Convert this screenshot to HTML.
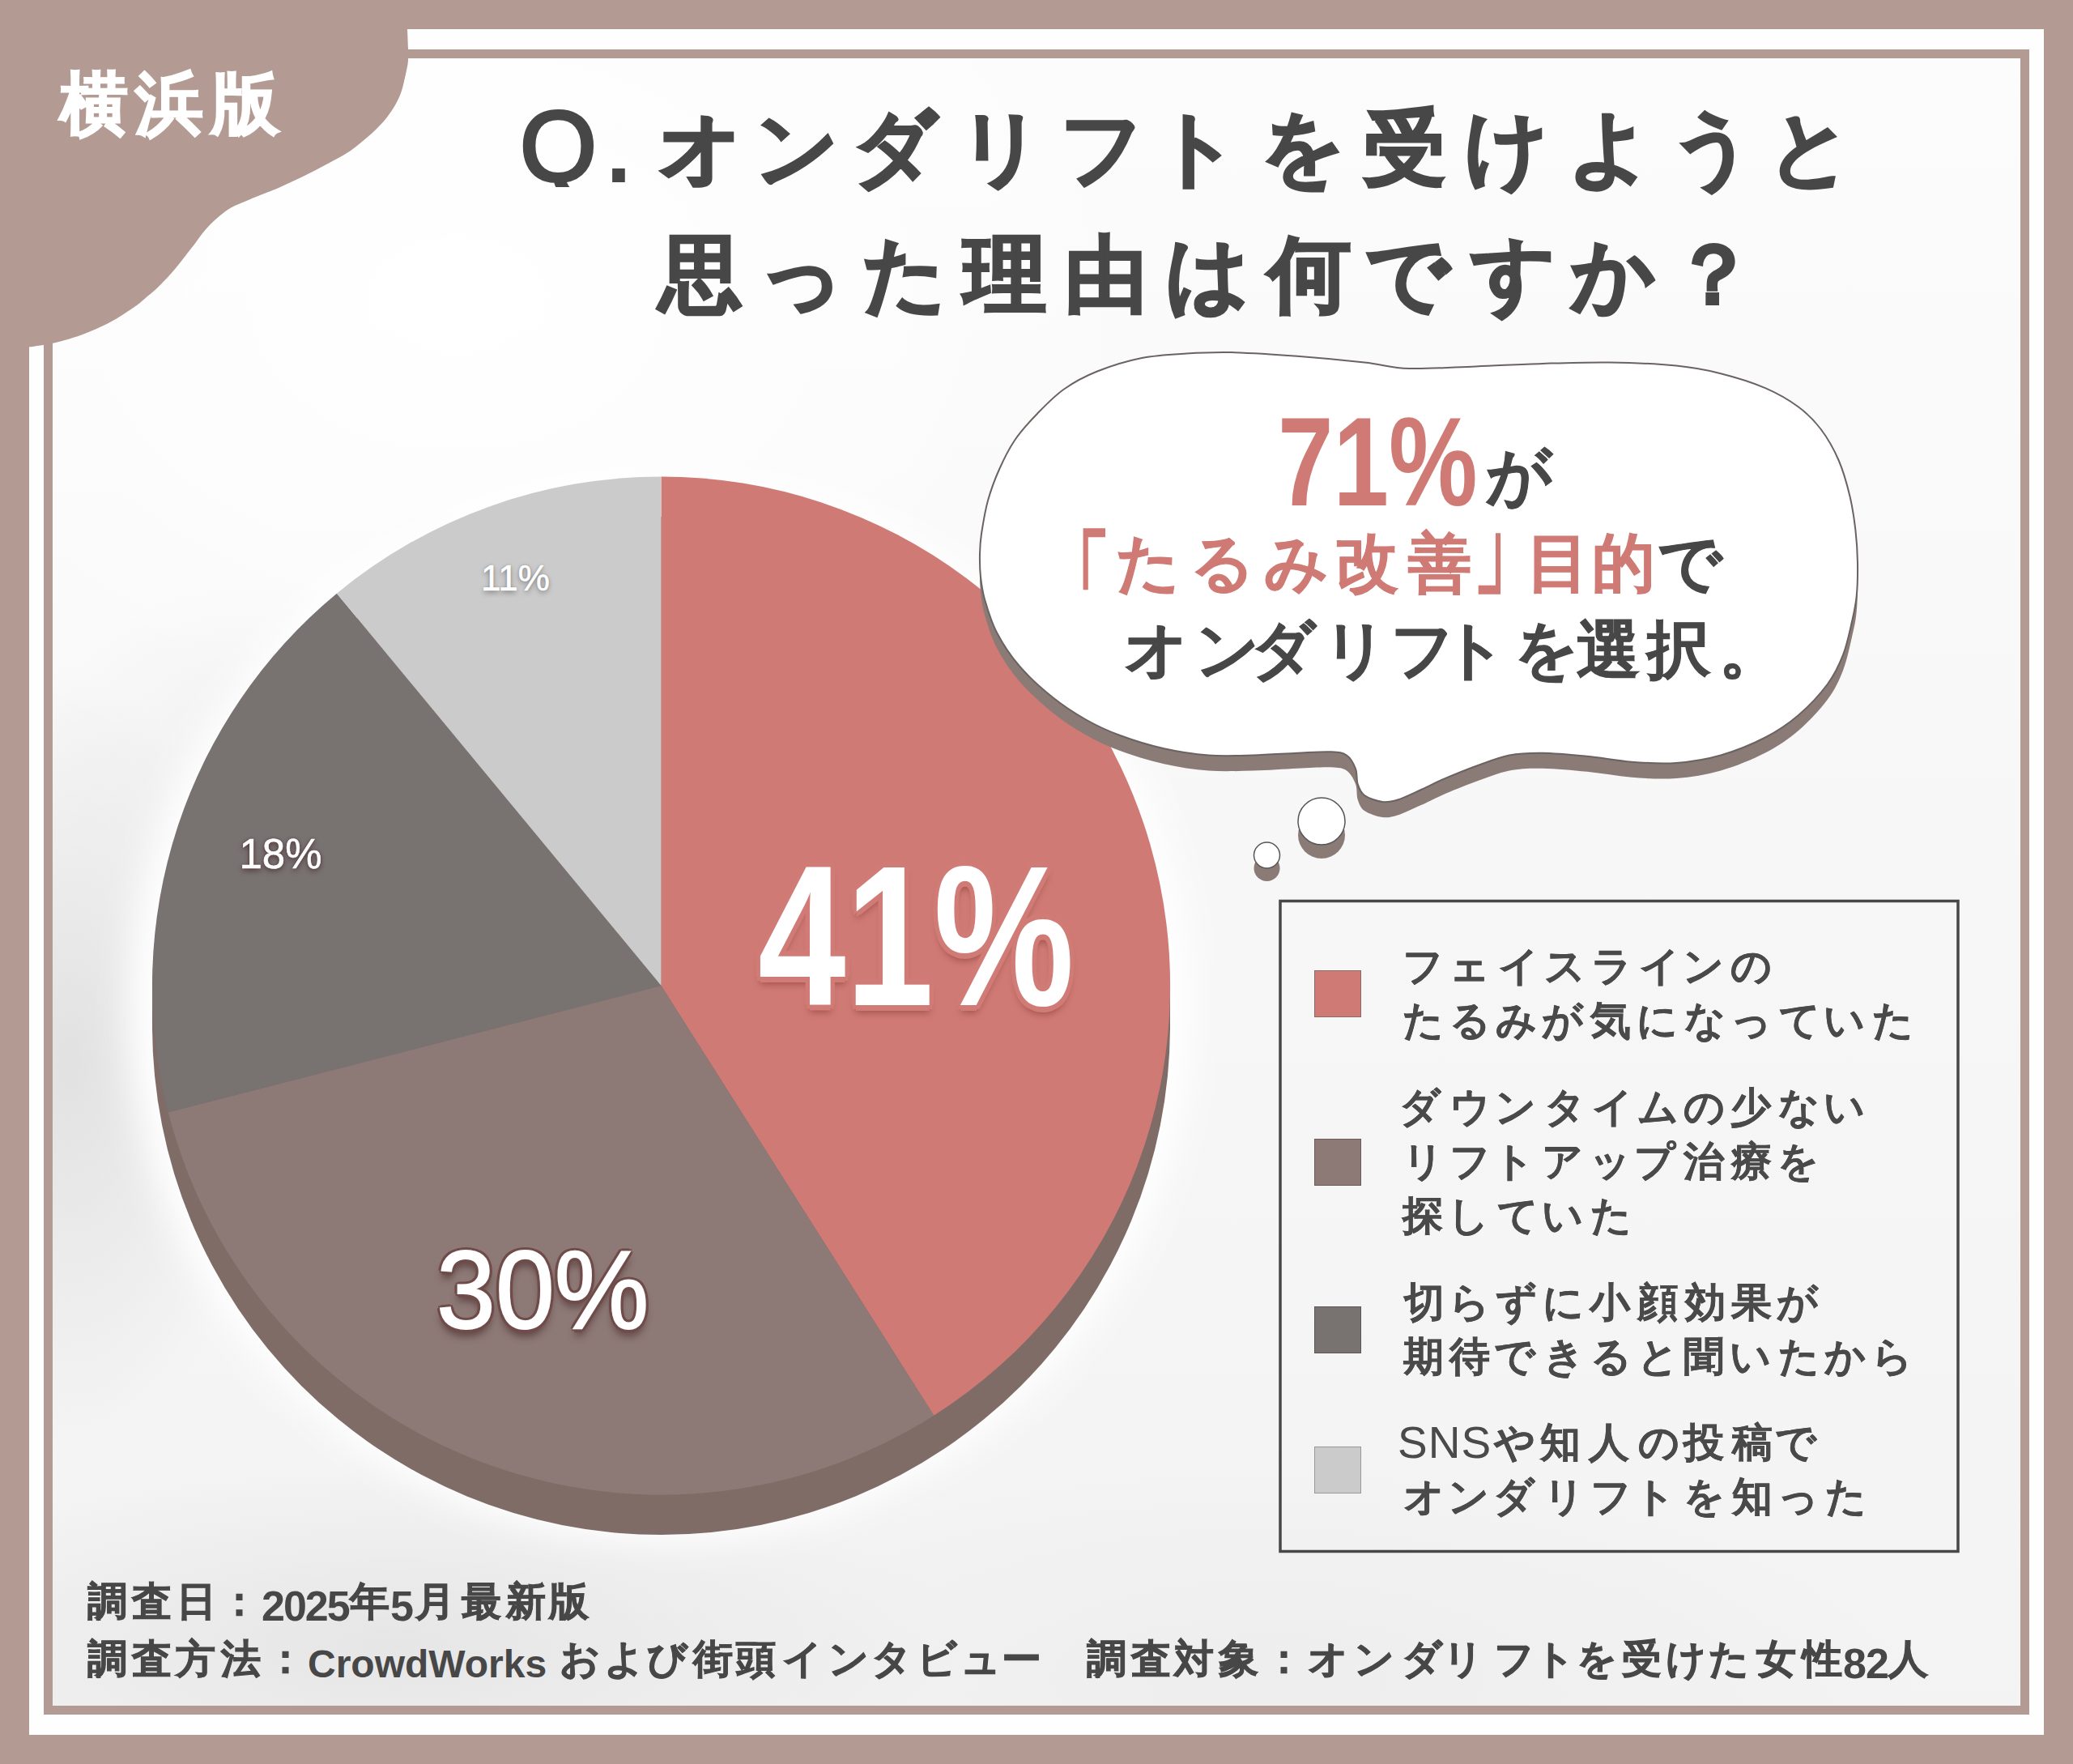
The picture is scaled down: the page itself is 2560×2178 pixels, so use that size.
<!DOCTYPE html>
<html lang="ja"><head><meta charset="utf-8"><title>オンダリフト</title>
<style>
html,body{margin:0;padding:0}
body{width:2560px;height:2178px;position:relative;overflow:hidden;background:#b39a92;font-family:"Liberation Sans",sans-serif;}
.abs{position:absolute}
#band{left:36px;top:36px;width:2488px;height:2106px;background:#fefefe}
#line{left:54px;top:61px;width:2452px;height:2056px;background:#b39a92}
#content{left:65px;top:72px;width:2430px;height:2034px;background:
radial-gradient(ellipse 240px 480px at 20px 1240px, rgba(220,220,220,.8), rgba(220,220,220,0)),
radial-gradient(ellipse 700px 230px at 420px 1960px, rgba(225,225,225,.75), rgba(225,225,225,0)),
radial-gradient(ellipse 800px 300px at 1500px 2000px, rgba(232,232,232,.5), rgba(232,232,232,0)),
radial-gradient(ellipse 260px 220px at 250px 870px, rgba(235,235,235,.6), rgba(235,235,235,0)),
radial-gradient(ellipse 900px 650px at 500px 300px, rgba(255,255,255,1), rgba(255,255,255,0)),
linear-gradient(180deg,#fcfcfc 0px,#f7f7f7 1000px,#f3f3f3 2034px)}
svg.full{position:absolute;left:0;top:0}
.g{position:absolute;display:block;text-align:center;line-height:1;white-space:nowrap}
.l{position:absolute;display:block;line-height:1;white-space:nowrap}
.wb{color:#fff;font-weight:bold;-webkit-text-stroke:2px #fff}
.tt{color:#474747;font-weight:bold;-webkit-text-stroke:3px #474747}
.rd{color:#cf7a74}
.big{font-weight:bold}
.b2{font-weight:bold;-webkit-text-stroke:1px #cf7a74}
.bt{color:#474747;font-weight:bold;-webkit-text-stroke:1px #474747}
.lg{color:#4a4a4a;font-weight:bold;-webkit-text-stroke:.4px #4a4a4a}
.lgl{color:#4a4a4a}
.ft{color:#474747;font-weight:bold;-webkit-text-stroke:1px #474747}
.ftl{color:#474747;font-weight:bold}
.p41,.p30,.p18,.p11{color:#fff;font-weight:bold}
.p41{text-shadow:7px 0 0 #d07b75,-7px 0 0 #d07b75,0 7px 0 #d07b75,0 -7px 0 #d07b75,5px 5px 0 #d07b75,-5px 5px 0 #d07b75,5px -5px 0 #d07b75,-5px -5px 0 #d07b75,0 9px 10px rgba(120,45,40,.55)}
.p30{text-shadow:4.5px 0 0 #6f4c49,-4.5px 0 0 #6f4c49,0 4.5px 0 #6f4c49,0 -4.5px 0 #6f4c49,3.2px 3.2px 0 #6f4c49,-3.2px 3.2px 0 #6f4c49,3.2px -3.2px 0 #6f4c49,-3.2px -3.2px 0 #6f4c49,0 9px 10px rgba(60,30,30,.6)}
.p18{text-shadow:0 3px 6px rgba(70,40,40,.8),0 0 3px rgba(70,40,40,.7)}
.p11{text-shadow:0 3px 6px rgba(0,0,0,.35),0 0 3px rgba(0,0,0,.3)}
</style></head><body>
<div class="abs" id="band"></div>
<div class="abs" id="line"></div>
<div class="abs" id="content"></div>

<svg class="full" width="2560" height="2178" viewBox="0 0 2560 2178">
  <path d="M503,0 L503.0,36.0 C503.2,40.0 503.8,53.7 504.0,60.0 C504.2,66.3 504.2,70.3 504.0,74.0 C503.8,77.7 503.7,78.3 503.0,82.0 C502.3,85.7 501.2,91.0 500.0,96.0 C498.8,101.0 497.8,106.7 496.0,112.0 C494.2,117.3 492.2,122.3 489.0,128.0 C485.8,133.7 481.5,140.3 477.0,146.0 C472.5,151.7 467.0,157.2 462.0,162.0 C457.0,166.8 451.8,171.0 447.0,175.0 C442.2,179.0 437.8,182.7 433.0,186.0 C428.2,189.3 423.0,192.2 418.0,195.0 C413.0,197.8 408.0,200.3 403.0,203.0 C398.0,205.7 392.8,208.5 388.0,211.0 C383.2,213.5 378.8,215.7 374.0,218.0 C369.2,220.3 364.0,222.7 359.0,225.0 C354.0,227.3 348.8,229.9 344.0,232.0 C339.2,234.1 334.8,235.6 330.0,237.5 C325.2,239.4 319.7,241.6 315.0,243.5 C310.3,245.4 307.0,246.8 302.0,249.0 C297.0,251.2 290.3,253.6 285.2,256.5 C280.1,259.4 275.5,263.2 271.3,266.6 C267.1,270.0 263.3,273.5 259.8,277.0 C256.3,280.5 253.6,283.6 250.5,287.5 C247.4,291.4 244.1,296.3 241.2,300.2 C238.3,304.1 235.8,307.1 233.1,310.6 C230.4,314.1 227.9,317.3 225.0,321.0 C222.1,324.7 218.9,328.9 215.8,332.6 C212.7,336.3 210.4,338.9 206.5,343.0 C202.6,347.1 196.8,353.0 192.6,357.0 C188.3,361.0 184.8,363.5 181.0,366.8 C177.2,370.1 174.3,373.0 169.5,376.6 C164.7,380.2 157.9,384.5 152.1,388.2 C146.3,391.9 140.5,395.5 134.7,398.6 C128.9,401.7 123.2,404.2 117.4,406.7 C111.6,409.2 106.2,411.5 100.0,413.7 C93.8,415.9 86.0,418.3 80.0,420.0 C74.0,421.7 69.0,422.9 64.0,424.0 C59.0,425.1 54.7,425.8 50.0,426.5 C45.3,427.2 38.3,428.2 36.0,428.5 L0,429 L0,0 Z" fill="#b39a92"/>
  <defs><filter id="glow" x="-20%" y="-20%" width="140%" height="140%"><feGaussianBlur stdDeviation="22"/></filter></defs>
  <circle cx="816.5" cy="1245" r="656.5" fill="#fff" filter="url(#glow)"/>
  <circle cx="816.5" cy="1266.5" r="628.5" fill="#7f6c66"/>
  <rect x="188.0" y="1217" width="1257.0" height="49.5" fill="#7f6c66"/>
  <path d="M816.5,1217.0 L816.5,588.5 A628.5,628.5 0 0 1 1153.3,1747.7 Z" fill="#cf7a74"/><path d="M816.5,1217.0 L1153.3,1747.7 A628.5,628.5 0 0 1 207.7,1373.3 Z" fill="#8d7976"/><path d="M816.5,1217.0 L207.7,1373.3 A628.5,628.5 0 0 1 415.9,732.7 Z" fill="#787271"/><path d="M816.5,1217.0 L415.9,732.7 A628.5,628.5 0 0 1 816.5,588.5 Z" fill="#cbcbcb"/>
  <path d="M1210.0,684.0 C1210.2,675.2 1210.3,670.0 1212.0,659.0 C1213.7,648.0 1216.3,631.2 1220.0,618.0 C1223.7,604.8 1228.5,591.9 1234.0,579.5 C1239.5,567.1 1245.2,555.2 1253.0,543.7 C1260.8,532.2 1270.8,521.2 1281.0,510.7 C1291.2,500.2 1301.7,489.2 1314.0,480.5 C1326.3,471.8 1339.0,464.9 1355.0,458.5 C1371.0,452.1 1391.7,445.7 1410.0,442.0 C1428.3,438.3 1446.7,437.6 1465.0,436.5 C1483.3,435.4 1497.2,434.6 1520.0,435.1 C1542.8,435.7 1574.5,437.7 1602.0,439.8 C1629.5,441.9 1662.0,445.0 1685.0,447.5 C1708.0,450.0 1717.1,454.2 1740.0,455.0 C1762.9,455.8 1795.0,453.4 1822.5,452.4 C1850.0,451.4 1877.5,449.7 1905.0,448.9 C1932.5,448.1 1960.0,447.1 1987.5,447.5 C2015.0,447.9 2047.1,449.3 2070.0,451.6 C2092.9,453.9 2106.7,456.6 2125.0,461.2 C2143.3,465.8 2164.0,472.2 2180.0,479.1 C2196.0,486.0 2209.6,494.0 2221.0,502.5 C2232.4,511.0 2240.4,519.0 2248.7,530.0 C2257.0,541.0 2264.8,554.8 2270.7,568.5 C2276.6,582.2 2281.0,598.3 2284.4,612.5 C2287.8,626.7 2289.7,640.0 2291.3,653.7 C2292.9,667.5 2293.8,681.2 2294.0,695.0 C2294.2,708.8 2293.9,724.1 2292.7,736.2 C2291.5,748.3 2289.8,755.4 2287.0,767.5 C2284.2,779.6 2281.0,795.9 2276.0,808.7 C2271.0,821.5 2266.2,832.1 2257.0,844.5 C2247.8,856.9 2233.8,872.0 2221.0,883.0 C2208.2,894.0 2196.0,902.2 2180.0,910.5 C2164.0,918.8 2143.3,927.2 2125.0,932.5 C2106.7,937.8 2088.3,940.6 2070.0,942.0 C2051.7,943.4 2033.3,942.1 2015.0,940.7 C1996.7,939.3 1978.3,935.6 1960.0,933.8 C1941.7,932.0 1921.0,929.9 1905.0,929.7 C1889.0,929.5 1877.8,929.8 1864.0,932.5 C1850.2,935.2 1836.3,941.0 1822.5,946.0 C1808.7,951.0 1792.2,957.9 1781.0,962.7 C1769.8,967.5 1764.2,970.9 1755.0,975.0 C1745.8,979.1 1734.0,985.0 1726.0,987.5 C1718.0,990.0 1713.8,990.9 1707.0,990.0 C1700.2,989.1 1690.0,985.6 1685.0,982.0 C1680.0,978.4 1678.5,973.7 1676.7,968.2 C1674.9,962.7 1676.3,955.0 1674.0,949.0 C1671.7,943.0 1668.0,936.0 1663.0,932.5 C1658.0,929.0 1653.8,928.8 1643.7,928.3 C1633.6,927.8 1618.5,929.0 1602.4,929.7 C1586.4,930.4 1565.7,932.0 1547.4,932.5 C1529.1,933.0 1510.8,933.9 1492.5,932.5 C1474.2,931.1 1455.8,928.3 1437.5,924.2 C1419.2,920.1 1398.6,913.7 1382.5,907.7 C1366.4,901.8 1354.8,896.3 1341.0,888.5 C1327.2,880.7 1313.7,872.0 1300.0,861.0 C1286.3,850.0 1270.5,835.8 1259.0,822.5 C1247.5,809.2 1238.2,794.8 1231.0,781.0 C1223.8,767.2 1219.3,751.5 1216.0,740.0 C1212.7,728.5 1212.0,721.3 1211.0,712.0 C1210.0,702.7 1209.8,692.8 1210.0,684.0Z" fill="#8b7b77" transform="translate(0,19)"/>
  <path d="M1210.0,684.0 C1210.2,675.2 1210.3,670.0 1212.0,659.0 C1213.7,648.0 1216.3,631.2 1220.0,618.0 C1223.7,604.8 1228.5,591.9 1234.0,579.5 C1239.5,567.1 1245.2,555.2 1253.0,543.7 C1260.8,532.2 1270.8,521.2 1281.0,510.7 C1291.2,500.2 1301.7,489.2 1314.0,480.5 C1326.3,471.8 1339.0,464.9 1355.0,458.5 C1371.0,452.1 1391.7,445.7 1410.0,442.0 C1428.3,438.3 1446.7,437.6 1465.0,436.5 C1483.3,435.4 1497.2,434.6 1520.0,435.1 C1542.8,435.7 1574.5,437.7 1602.0,439.8 C1629.5,441.9 1662.0,445.0 1685.0,447.5 C1708.0,450.0 1717.1,454.2 1740.0,455.0 C1762.9,455.8 1795.0,453.4 1822.5,452.4 C1850.0,451.4 1877.5,449.7 1905.0,448.9 C1932.5,448.1 1960.0,447.1 1987.5,447.5 C2015.0,447.9 2047.1,449.3 2070.0,451.6 C2092.9,453.9 2106.7,456.6 2125.0,461.2 C2143.3,465.8 2164.0,472.2 2180.0,479.1 C2196.0,486.0 2209.6,494.0 2221.0,502.5 C2232.4,511.0 2240.4,519.0 2248.7,530.0 C2257.0,541.0 2264.8,554.8 2270.7,568.5 C2276.6,582.2 2281.0,598.3 2284.4,612.5 C2287.8,626.7 2289.7,640.0 2291.3,653.7 C2292.9,667.5 2293.8,681.2 2294.0,695.0 C2294.2,708.8 2293.9,724.1 2292.7,736.2 C2291.5,748.3 2289.8,755.4 2287.0,767.5 C2284.2,779.6 2281.0,795.9 2276.0,808.7 C2271.0,821.5 2266.2,832.1 2257.0,844.5 C2247.8,856.9 2233.8,872.0 2221.0,883.0 C2208.2,894.0 2196.0,902.2 2180.0,910.5 C2164.0,918.8 2143.3,927.2 2125.0,932.5 C2106.7,937.8 2088.3,940.6 2070.0,942.0 C2051.7,943.4 2033.3,942.1 2015.0,940.7 C1996.7,939.3 1978.3,935.6 1960.0,933.8 C1941.7,932.0 1921.0,929.9 1905.0,929.7 C1889.0,929.5 1877.8,929.8 1864.0,932.5 C1850.2,935.2 1836.3,941.0 1822.5,946.0 C1808.7,951.0 1792.2,957.9 1781.0,962.7 C1769.8,967.5 1764.2,970.9 1755.0,975.0 C1745.8,979.1 1734.0,985.0 1726.0,987.5 C1718.0,990.0 1713.8,990.9 1707.0,990.0 C1700.2,989.1 1690.0,985.6 1685.0,982.0 C1680.0,978.4 1678.5,973.7 1676.7,968.2 C1674.9,962.7 1676.3,955.0 1674.0,949.0 C1671.7,943.0 1668.0,936.0 1663.0,932.5 C1658.0,929.0 1653.8,928.8 1643.7,928.3 C1633.6,927.8 1618.5,929.0 1602.4,929.7 C1586.4,930.4 1565.7,932.0 1547.4,932.5 C1529.1,933.0 1510.8,933.9 1492.5,932.5 C1474.2,931.1 1455.8,928.3 1437.5,924.2 C1419.2,920.1 1398.6,913.7 1382.5,907.7 C1366.4,901.8 1354.8,896.3 1341.0,888.5 C1327.2,880.7 1313.7,872.0 1300.0,861.0 C1286.3,850.0 1270.5,835.8 1259.0,822.5 C1247.5,809.2 1238.2,794.8 1231.0,781.0 C1223.8,767.2 1219.3,751.5 1216.0,740.0 C1212.7,728.5 1212.0,721.3 1211.0,712.0 C1210.0,702.7 1209.8,692.8 1210.0,684.0Z" fill="#fff" stroke="#6a6361" stroke-width="2"/>
  <circle cx="1632" cy="1031" r="29" fill="#8b7b77"/>
  <circle cx="1632" cy="1014" r="29" fill="#fff" stroke="#555" stroke-width="1.5"/>
  <circle cx="1564.5" cy="1072" r="16" fill="#8b7b77"/>
  <circle cx="1564.5" cy="1056" r="16" fill="#fff" stroke="#555" stroke-width="1.5"/>
  <rect x="1581" y="1112.5" width="837" height="803" fill="none" stroke="#474747" stroke-width="3.5"/>
  <rect x="1623.5" y="1198.5" width="57" height="57" fill="#cf7a74" stroke="#8a6a66" stroke-width="1"/>
  <rect x="1623.5" y="1406.5" width="57" height="57" fill="#8d7976" stroke="#6a5a58" stroke-width="1"/>
  <rect x="1623.5" y="1613.5" width="57" height="57" fill="#787271" stroke="#5a5656" stroke-width="1"/>
  <rect x="1623.5" y="1786.5" width="57" height="57" fill="#cbcbcb" stroke="#999" stroke-width="1"/>
</svg>

<span class="g wb" style="left:55.2px;top:85.9px;width:122px;font-size:84px;">横</span>
<span class="g wb" style="left:148.3px;top:85.9px;width:122px;font-size:84px;">浜</span>
<span class="g wb" style="left:242.3px;top:85.9px;width:122px;font-size:84px;">版</span>
<span class="l tt" style="left:642.0px;top:119.7px;font-size:122px;font-weight:normal;letter-spacing:10px;-webkit-text-stroke:4px #474747;height:111px;overflow:hidden;padding-right:6px">Q.</span>
<span class="g tt" style="left:783.6px;top:131.7px;width:162px;font-size:102px;">オ</span>
<span class="g tt" style="left:903.3px;top:131.7px;width:162px;font-size:102px;">ン</span>
<span class="g tt" style="left:1024.0px;top:131.7px;width:162px;font-size:102px;">ダ</span>
<span class="g tt" style="left:1155.4px;top:131.7px;width:162px;font-size:102px;">リ</span>
<span class="g tt" style="left:1280.2px;top:131.7px;width:162px;font-size:102px;">フ</span>
<span class="g tt" style="left:1396.9px;top:131.7px;width:162px;font-size:102px;">ト</span>
<span class="g tt" style="left:1528.3px;top:131.7px;width:162px;font-size:102px;">を</span>
<span class="g tt" style="left:1653.6px;top:131.7px;width:162px;font-size:102px;">受</span>
<span class="g tt" style="left:1778.9px;top:131.7px;width:162px;font-size:102px;">け</span>
<span class="g tt" style="left:1906.8px;top:131.7px;width:162px;font-size:102px;">よ</span>
<span class="g tt" style="left:2033.6px;top:131.7px;width:162px;font-size:102px;">う</span>
<span class="g tt" style="left:2154.4px;top:131.7px;width:162px;font-size:102px;">と</span>
<span class="g tt" style="left:784.2px;top:287.7px;width:162px;font-size:102px;">思</span>
<span class="g tt" style="left:909.0px;top:287.7px;width:162px;font-size:102px;">っ</span>
<span class="g tt" style="left:1035.8px;top:287.7px;width:162px;font-size:102px;">た</span>
<span class="g tt" style="left:1160.1px;top:287.7px;width:162px;font-size:102px;">理</span>
<span class="g tt" style="left:1284.9px;top:287.7px;width:162px;font-size:102px;">由</span>
<span class="g tt" style="left:1410.2px;top:287.7px;width:162px;font-size:102px;">は</span>
<span class="g tt" style="left:1536.0px;top:287.7px;width:162px;font-size:102px;">何</span>
<span class="g tt" style="left:1656.7px;top:287.7px;width:162px;font-size:102px;">で</span>
<span class="g tt" style="left:1788.1px;top:287.7px;width:162px;font-size:102px;">す</span>
<span class="g tt" style="left:1910.9px;top:287.7px;width:162px;font-size:102px;">か</span>
<span class="g tt" style="left:2035.1px;top:287.7px;width:162px;font-size:102px;">？</span>
<span class="l rd big" style="left:1578.0px;top:491.9px;font-size:156px;;transform:scaleX(0.790);transform-origin:0 0">71%</span>
<span class="g bt" style="left:1812.2px;top:548.3px;width:128px;font-size:80px;">が</span>
<span class="g rd b2" style="left:1270.0px;top:656.0px;width:124px;font-size:78px;transform:scaleY(1.787);transform-origin:50% 7.8px">「</span>
<span class="g rd b2" style="left:1797.0px;top:656.0px;width:124px;font-size:78px;transform:scaleY(1.787);transform-origin:50% 71px">」</span>
<span class="g rd b2" style="left:1356.3px;top:656.0px;width:124px;font-size:78px;">た</span>
<span class="g rd b2" style="left:1448.0px;top:656.0px;width:124px;font-size:78px;">る</span>
<span class="g rd b2" style="left:1538.8px;top:656.0px;width:124px;font-size:78px;">み</span>
<span class="g rd b2" style="left:1625.6px;top:656.0px;width:124px;font-size:78px;">改</span>
<span class="g rd b2" style="left:1716.2px;top:656.0px;width:124px;font-size:78px;">善</span>
<span class="g rd b2" style="left:1862.3px;top:656.0px;width:124px;font-size:78px;">目</span>
<span class="g rd b2" style="left:1942.8px;top:656.0px;width:124px;font-size:78px;">的</span>
<span class="g bt" style="left:2025.1px;top:656.0px;width:124px;font-size:78px;">で</span>
<span class="g bt" style="left:1365.5px;top:763.0px;width:124px;font-size:78px;">オ</span>
<span class="g bt" style="left:1453.6px;top:763.0px;width:124px;font-size:78px;">ン</span>
<span class="g bt" style="left:1522.5px;top:763.0px;width:124px;font-size:78px;">ダ</span>
<span class="g bt" style="left:1611.6px;top:763.0px;width:124px;font-size:78px;">リ</span>
<span class="g bt" style="left:1694.6px;top:763.0px;width:124px;font-size:78px;">フ</span>
<span class="g bt" style="left:1759.3px;top:763.0px;width:124px;font-size:78px;">ト</span>
<span class="g bt" style="left:1848.4px;top:763.0px;width:124px;font-size:78px;">を</span>
<span class="g bt" style="left:1924.4px;top:763.0px;width:124px;font-size:78px;">選</span>
<span class="g bt" style="left:2011.2px;top:763.0px;width:124px;font-size:78px;">択</span>
<span class="g bt" style="left:2100.1px;top:763.0px;width:124px;font-size:78px;">。</span>
<span class="g lg" style="left:1719.5px;top:1168.0px;width:75px;font-size:50px;">フ</span>
<span class="g lg" style="left:1776.5px;top:1168.0px;width:75px;font-size:50px;">ェ</span>
<span class="g lg" style="left:1837.5px;top:1168.0px;width:75px;font-size:50px;">イ</span>
<span class="g lg" style="left:1894.5px;top:1168.0px;width:75px;font-size:50px;">ス</span>
<span class="g lg" style="left:1952.5px;top:1168.0px;width:75px;font-size:50px;">ラ</span>
<span class="g lg" style="left:2011.5px;top:1168.0px;width:75px;font-size:50px;">イ</span>
<span class="g lg" style="left:2066.2px;top:1168.0px;width:75px;font-size:50px;">ン</span>
<span class="g lg" style="left:2125.2px;top:1168.0px;width:75px;font-size:50px;">の</span>
<span class="g lg" style="left:1720.0px;top:1235.0px;width:75px;font-size:50px;">た</span>
<span class="g lg" style="left:1777.8px;top:1235.0px;width:75px;font-size:50px;">る</span>
<span class="g lg" style="left:1835.0px;top:1235.0px;width:75px;font-size:50px;">み</span>
<span class="g lg" style="left:1892.0px;top:1235.0px;width:75px;font-size:50px;">が</span>
<span class="g lg" style="left:1951.5px;top:1235.0px;width:75px;font-size:50px;">気</span>
<span class="g lg" style="left:2009.0px;top:1235.0px;width:75px;font-size:50px;">に</span>
<span class="g lg" style="left:2068.0px;top:1235.0px;width:75px;font-size:50px;">な</span>
<span class="g lg" style="left:2125.2px;top:1235.0px;width:75px;font-size:50px;">っ</span>
<span class="g lg" style="left:2185.0px;top:1235.0px;width:75px;font-size:50px;">て</span>
<span class="g lg" style="left:2240.0px;top:1235.0px;width:75px;font-size:50px;">い</span>
<span class="g lg" style="left:2300.0px;top:1235.0px;width:75px;font-size:50px;">た</span>
<span class="g lg" style="left:1716.2px;top:1342.0px;width:75px;font-size:50px;">ダ</span>
<span class="g lg" style="left:1777.8px;top:1342.0px;width:75px;font-size:50px;">ウ</span>
<span class="g lg" style="left:1834.2px;top:1342.0px;width:75px;font-size:50px;">ン</span>
<span class="g lg" style="left:1894.8px;top:1342.0px;width:75px;font-size:50px;">タ</span>
<span class="g lg" style="left:1953.5px;top:1342.0px;width:75px;font-size:50px;">イ</span>
<span class="g lg" style="left:2009.5px;top:1342.0px;width:75px;font-size:50px;">ム</span>
<span class="g lg" style="left:2067.2px;top:1342.0px;width:75px;font-size:50px;">の</span>
<span class="g lg" style="left:2124.0px;top:1342.0px;width:75px;font-size:50px;">少</span>
<span class="g lg" style="left:2184.0px;top:1342.0px;width:75px;font-size:50px;">な</span>
<span class="g lg" style="left:2240.0px;top:1342.0px;width:75px;font-size:50px;">い</span>
<span class="g lg" style="left:1719.5px;top:1409.0px;width:75px;font-size:50px;">リ</span>
<span class="g lg" style="left:1777.5px;top:1409.0px;width:75px;font-size:50px;">フ</span>
<span class="g lg" style="left:1831.5px;top:1409.0px;width:75px;font-size:50px;">ト</span>
<span class="g lg" style="left:1892.2px;top:1409.0px;width:75px;font-size:50px;">ア</span>
<span class="g lg" style="left:1951.0px;top:1409.0px;width:75px;font-size:50px;">ッ</span>
<span class="g lg" style="left:2006.2px;top:1409.0px;width:75px;font-size:50px;">プ</span>
<span class="g lg" style="left:2066.2px;top:1409.0px;width:75px;font-size:50px;">治</span>
<span class="g lg" style="left:2125.2px;top:1409.0px;width:75px;font-size:50px;">療</span>
<span class="g lg" style="left:2182.8px;top:1409.0px;width:75px;font-size:50px;">を</span>
<span class="g lg" style="left:1719.2px;top:1476.0px;width:75px;font-size:50px;">探</span>
<span class="g lg" style="left:1775.5px;top:1476.0px;width:75px;font-size:50px;">し</span>
<span class="g lg" style="left:1837.0px;top:1476.0px;width:75px;font-size:50px;">て</span>
<span class="g lg" style="left:1892.0px;top:1476.0px;width:75px;font-size:50px;">い</span>
<span class="g lg" style="left:1952.0px;top:1476.0px;width:75px;font-size:50px;">た</span>
<span class="g lg" style="left:1721.2px;top:1582.5px;width:75px;font-size:50px;">切</span>
<span class="g lg" style="left:1776.8px;top:1582.5px;width:75px;font-size:50px;">ら</span>
<span class="g lg" style="left:1834.8px;top:1582.5px;width:75px;font-size:50px;">ず</span>
<span class="g lg" style="left:1893.0px;top:1582.5px;width:75px;font-size:50px;">に</span>
<span class="g lg" style="left:1950.8px;top:1582.5px;width:75px;font-size:50px;">小</span>
<span class="g lg" style="left:2009.0px;top:1582.5px;width:75px;font-size:50px;">顔</span>
<span class="g lg" style="left:2068.5px;top:1582.5px;width:75px;font-size:50px;">効</span>
<span class="g lg" style="left:2125.0px;top:1582.5px;width:75px;font-size:50px;">果</span>
<span class="g lg" style="left:2182.0px;top:1582.5px;width:75px;font-size:50px;">が</span>
<span class="g lg" style="left:1720.0px;top:1649.5px;width:75px;font-size:50px;">期</span>
<span class="g lg" style="left:1777.5px;top:1649.5px;width:75px;font-size:50px;">待</span>
<span class="g lg" style="left:1833.2px;top:1649.5px;width:75px;font-size:50px;">で</span>
<span class="g lg" style="left:1894.2px;top:1649.5px;width:75px;font-size:50px;">き</span>
<span class="g lg" style="left:1951.8px;top:1649.5px;width:75px;font-size:50px;">る</span>
<span class="g lg" style="left:2009.8px;top:1649.5px;width:75px;font-size:50px;">と</span>
<span class="g lg" style="left:2066.8px;top:1649.5px;width:75px;font-size:50px;">聞</span>
<span class="g lg" style="left:2124.0px;top:1649.5px;width:75px;font-size:50px;">い</span>
<span class="g lg" style="left:2184.0px;top:1649.5px;width:75px;font-size:50px;">た</span>
<span class="g lg" style="left:2241.0px;top:1649.5px;width:75px;font-size:50px;">か</span>
<span class="g lg" style="left:2298.8px;top:1649.5px;width:75px;font-size:50px;">ら</span>
<span class="l lgl" style="left:1726.0px;top:1754.4px;font-size:55px;letter-spacing:1px">SNS</span>
<span class="g lg" style="left:1833.0px;top:1755.5px;width:75px;font-size:50px;">や</span>
<span class="g lg" style="left:1889.8px;top:1755.5px;width:75px;font-size:50px;">知</span>
<span class="g lg" style="left:1949.0px;top:1755.5px;width:75px;font-size:50px;">人</span>
<span class="g lg" style="left:2011.2px;top:1755.5px;width:75px;font-size:50px;">の</span>
<span class="g lg" style="left:2066.5px;top:1755.5px;width:75px;font-size:50px;">投</span>
<span class="g lg" style="left:2126.8px;top:1755.5px;width:75px;font-size:50px;">稿</span>
<span class="g lg" style="left:2180.2px;top:1755.5px;width:75px;font-size:50px;">で</span>
<span class="g lg" style="left:1720.8px;top:1822.5px;width:75px;font-size:50px;">オ</span>
<span class="g lg" style="left:1776.2px;top:1822.5px;width:75px;font-size:50px;">ン</span>
<span class="g lg" style="left:1832.2px;top:1822.5px;width:75px;font-size:50px;">ダ</span>
<span class="g lg" style="left:1893.5px;top:1822.5px;width:75px;font-size:50px;">リ</span>
<span class="g lg" style="left:1951.5px;top:1822.5px;width:75px;font-size:50px;">フ</span>
<span class="g lg" style="left:2005.5px;top:1822.5px;width:75px;font-size:50px;">ト</span>
<span class="g lg" style="left:2066.8px;top:1822.5px;width:75px;font-size:50px;">を</span>
<span class="g lg" style="left:2126.8px;top:1822.5px;width:75px;font-size:50px;">知</span>
<span class="g lg" style="left:2183.2px;top:1822.5px;width:75px;font-size:50px;">っ</span>
<span class="g lg" style="left:2242.0px;top:1822.5px;width:75px;font-size:50px;">た</span>
<span class="g ft" style="left:97.5px;top:1952.5px;width:70px;font-size:49px;">調</span>
<span class="g ft" style="left:152.2px;top:1952.5px;width:70px;font-size:49px;">査</span>
<span class="g ft" style="left:207.5px;top:1952.5px;width:70px;font-size:49px;">日</span>
<span class="g ft" style="left:260.5px;top:1952.5px;width:70px;font-size:49px;">：</span>
<span class="g ft" style="left:421.2px;top:1952.5px;width:70px;font-size:49px;">年</span>
<span class="g ft" style="left:502.1px;top:1952.5px;width:70px;font-size:49px;">月</span>
<span class="g ft" style="left:559.5px;top:1952.5px;width:70px;font-size:49px;">最</span>
<span class="g ft" style="left:614.0px;top:1952.5px;width:70px;font-size:49px;">新</span>
<span class="g ft" style="left:667.5px;top:1952.5px;width:70px;font-size:49px;">版</span>
<span class="l ftl" style="left:323.0px;top:1957.0px;font-size:52px;letter-spacing:-2px">2025</span>
<span class="l ftl" style="left:482.0px;top:1957.0px;font-size:52px;">5</span>
<span class="g ft" style="left:97.5px;top:2024.0px;width:70px;font-size:49px;">調</span>
<span class="g ft" style="left:152.2px;top:2024.0px;width:70px;font-size:49px;">査</span>
<span class="g ft" style="left:206.7px;top:2024.0px;width:70px;font-size:49px;">方</span>
<span class="g ft" style="left:262.5px;top:2024.0px;width:70px;font-size:49px;">法</span>
<span class="g ft" style="left:317.5px;top:2024.0px;width:70px;font-size:49px;">：</span>
<span class="g ft" style="left:681.0px;top:2024.0px;width:70px;font-size:49px;">お</span>
<span class="g ft" style="left:736.2px;top:2024.0px;width:70px;font-size:49px;">よ</span>
<span class="g ft" style="left:789.0px;top:2024.0px;width:70px;font-size:49px;">び</span>
<span class="g ft" style="left:845.0px;top:2024.0px;width:70px;font-size:49px;">街</span>
<span class="g ft" style="left:898.5px;top:2024.0px;width:70px;font-size:49px;">頭</span>
<span class="g ft" style="left:955.9px;top:2024.0px;width:70px;font-size:49px;">イ</span>
<span class="g ft" style="left:1012.8px;top:2024.0px;width:70px;font-size:49px;">ン</span>
<span class="g ft" style="left:1066.2px;top:2024.0px;width:70px;font-size:49px;">タ</span>
<span class="g ft" style="left:1121.6px;top:2024.0px;width:70px;font-size:49px;">ビ</span>
<span class="g ft" style="left:1175.7px;top:2024.0px;width:70px;font-size:49px;">ュ</span>
<span class="g ft" style="left:1226.0px;top:2024.0px;width:70px;font-size:49px;">ー</span>
<span class="g ft" style="left:1331.0px;top:2024.0px;width:70px;font-size:49px;">調</span>
<span class="g ft" style="left:1386.2px;top:2024.0px;width:70px;font-size:49px;">査</span>
<span class="g ft" style="left:1439.2px;top:2024.0px;width:70px;font-size:49px;">対</span>
<span class="g ft" style="left:1494.0px;top:2024.0px;width:70px;font-size:49px;">象</span>
<span class="g ft" style="left:1550.5px;top:2024.0px;width:70px;font-size:49px;">：</span>
<span class="g ft" style="left:1604.7px;top:2024.0px;width:70px;font-size:49px;">オ</span>
<span class="g ft" style="left:1662.3px;top:2024.0px;width:70px;font-size:49px;">ン</span>
<span class="g ft" style="left:1720.8px;top:2024.0px;width:70px;font-size:49px;">ダ</span>
<span class="g ft" style="left:1771.5px;top:2024.0px;width:70px;font-size:49px;">リ</span>
<span class="g ft" style="left:1834.5px;top:2024.0px;width:70px;font-size:49px;">フ</span>
<span class="g ft" style="left:1885.1px;top:2024.0px;width:70px;font-size:49px;">ト</span>
<span class="g ft" style="left:1936.7px;top:2024.0px;width:70px;font-size:49px;">を</span>
<span class="g ft" style="left:1992.0px;top:2024.0px;width:70px;font-size:49px;">受</span>
<span class="g ft" style="left:2047.2px;top:2024.0px;width:70px;font-size:49px;">け</span>
<span class="g ft" style="left:2099.5px;top:2024.0px;width:70px;font-size:49px;">た</span>
<span class="g ft" style="left:2158.5px;top:2024.0px;width:70px;font-size:49px;">女</span>
<span class="g ft" style="left:2215.5px;top:2024.0px;width:70px;font-size:49px;">性</span>
<span class="g ft" style="left:2321.5px;top:2024.0px;width:70px;font-size:49px;">人</span>
<span class="l ftl" style="left:380.0px;top:2031.4px;font-size:48px;">CrowdWorks</span>
<span class="l ftl" style="left:2276.0px;top:2028.0px;font-size:52px;letter-spacing:-1px">82</span>
<span class="l p41" style="left:935.7px;top:1031.9px;font-size:247px;;transform:scaleX(0.790);transform-origin:0 0">41%</span>
<span class="l p30" style="left:539.0px;top:1522.6px;font-size:138px;font-weight:normal;-webkit-text-stroke:2px #fff;transform:scaleX(0.950);transform-origin:0 0">30%</span>
<span class="l p18" style="left:295.5px;top:1028.8px;font-size:51px;font-weight:normal;letter-spacing:0px;-webkit-text-stroke:.6px #fff">18%</span>
<span class="l p11" style="left:594.0px;top:691.8px;font-size:44px;font-weight:normal;letter-spacing:0px;-webkit-text-stroke:.6px #fff">11%</span>
</body></html>
